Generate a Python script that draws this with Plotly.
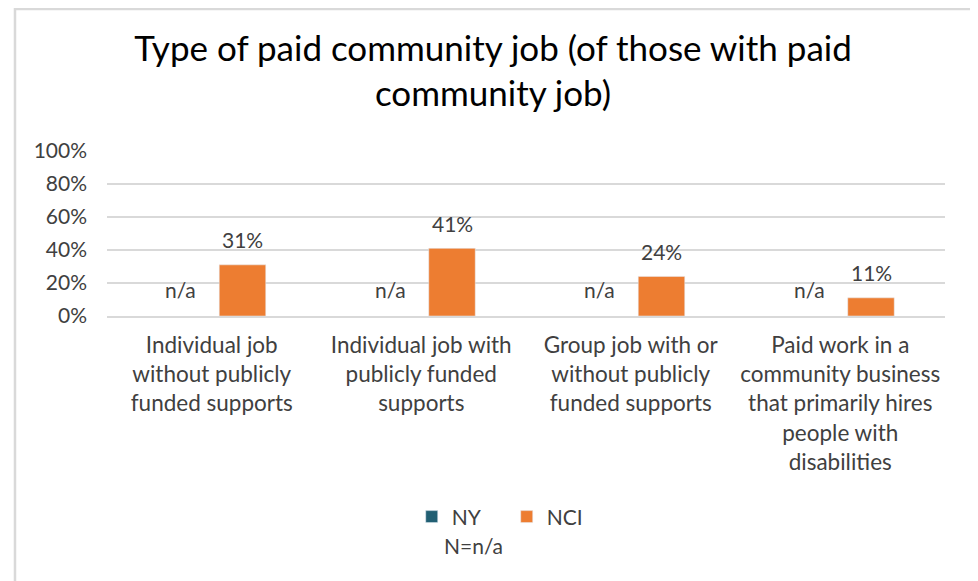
import plotly.graph_objects as go

categories = [
    "Individual job<br>without publicly<br>funded supports",
    "Individual job with<br>publicly funded<br>supports",
    "Group job with or<br>without publicly<br>funded supports",
    "Paid work in a<br>community business<br>that primarily hires<br>people with<br>disabilities",
]
ny_values = [None, None, None, None]
ny_labels = ["n/a", "n/a", "n/a", "n/a"]
nci_values = [0.31, 0.41, 0.24, 0.11]
nci_labels = ["31%", "41%", "24%", "11%"]
tick_vals = [0, 0.2, 0.4, 0.6, 0.8, 1.0]

FONT = "Lato, Open Sans, sans-serif"
TXT = "#404040"
FS = 21

fig = go.Figure()
fig.add_trace(go.Bar(name="NY", x=categories, y=ny_values, marker_color="#215F73"))
fig.add_trace(go.Bar(name="NCI", x=categories, y=nci_values, marker_color="#ED7D31"))

annotations = []
for c, lab in zip(categories, ny_labels):
    annotations.append(dict(x=c, y=0, text=lab, showarrow=False, xref="x", yref="y",
                            xshift=-31, yshift=27, font=dict(size=FS, color=TXT, family=FONT)))
for c, v, lab in zip(categories, nci_values, nci_labels):
    annotations.append(dict(x=c, y=v, text=lab, showarrow=False, xref="x", yref="y",
                            xshift=31, yshift=25, font=dict(size=FS, color=TXT, family=FONT)))
annotations.append(dict(x=0.4368, y=-1.388, xref="paper", yref="paper", text="N=n/a",
                        xanchor="center", yanchor="middle",
                        showarrow=False, font=dict(size=FS, color=TXT, family=FONT)))

fig.update_layout(
    width=970, height=573,
    margin=dict(l=99, r=33, t=143, b=265),
    paper_bgcolor="white", plot_bgcolor="white",
    title=dict(text="Type of paid community job (of those with paid<br>community job)",
               x=0.5, xanchor="center", y=0.908, yanchor="top",
               font=dict(size=35, color="black", family=FONT)),
    barmode="group", bargap=0.413, bargroupgap=0.244,
    showlegend=True,
    legend=dict(orientation="h", x=0.477, xanchor="center", y=-1.218, yanchor="middle",
                font=dict(size=FS, color=TXT, family=FONT), itemwidth=30,
                entrywidth=50, traceorder="normal"),
    annotations=annotations,
    shapes=[dict(type="rect", xref="paper", yref="paper", x0=-0.1098, x1=1.0334,
                 y0=-2, y1=1.861, line=dict(color="#d9d9d9", width=2.5))],
)
fig.update_yaxes(range=[0, 1], tickvals=tick_vals, tickformat=".0%",
                 showgrid=True, gridcolor="#d9d9d9", gridwidth=1.5, zeroline=False,
                 showline=False, ticks="", ticklen=0, ticklabelstandoff=19,
                 tickfont=dict(size=FS, color=TXT, family=FONT))
fig.update_xaxes(showline=True, linecolor="#d9d9d9", linewidth=1.5, ticks="",
                 ticklabelstandoff=8,
                 tickfont=dict(size=22.5, color=TXT, family=FONT))

fig.write_html("out.html")
